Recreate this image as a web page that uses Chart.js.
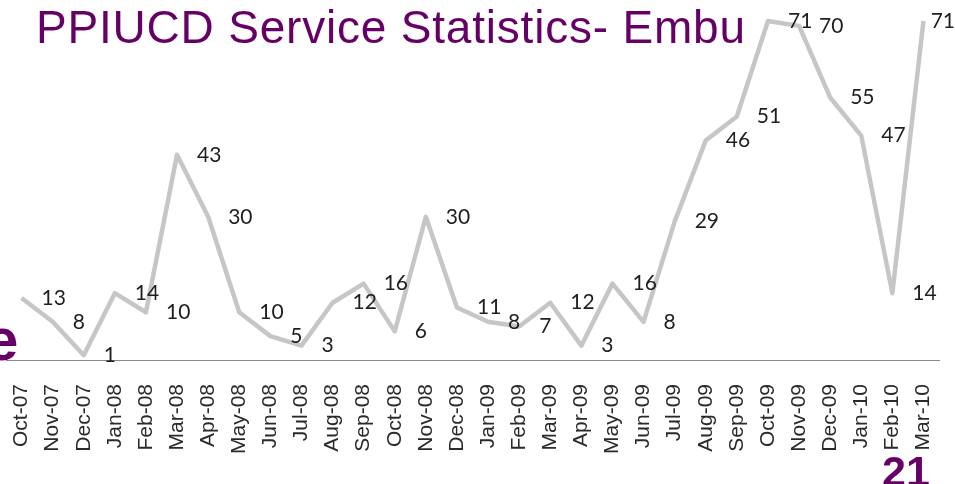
<!DOCTYPE html>
<html>
<head>
<meta charset="utf-8">
<script src="https://cdn.jsdelivr.net/npm/chart.js@4/dist/chart.umd.min.js"></script>
<style>
	body { margin: 0; background: #fff; }
	#wrap { position: relative; width: 955px; height: 484px; overflow: hidden; }
	#serviceChart { position: absolute; left: 0; top: 0; }
	.slide-text { position: absolute; color: #660066; font-family: "Liberation Sans", Arial, sans-serif; white-space: nowrap; }
	#title { left: 36px; top: 4px; font-size: 46px; line-height: 46px; letter-spacing: 0.8px; }
	#cutLetter { left: -15px; top: 310px; font-size: 60px; line-height: 60px; font-weight: bold; }
	#slideNo { left: 882px; top: 450px; font-size: 43px; line-height: 43px; font-weight: bold; }
</style>
</head>
<body>
<div id="wrap">
	<canvas id="serviceChart" width="955" height="484"></canvas>
	<div class="slide-text" id="title">PPIUCD Service Statistics- Embu</div>
	<div class="slide-text" id="cutLetter">e</div>
	<div class="slide-text" id="slideNo">21</div>
</div>
<script>
// monthly PPIUCD insertions, Oct 2007 - Mar 2010
const months = [
	"Oct-07", "Nov-07", "Dec-07", "Jan-08", "Feb-08", "Mar-08", "Apr-08", "May-08",
	"Jun-08", "Jul-08", "Aug-08", "Sep-08", "Oct-08", "Nov-08", "Dec-08", "Jan-09",
	"Feb-09", "Mar-09", "Apr-09", "May-09", "Jun-09", "Jul-09", "Aug-09", "Sep-09",
	"Oct-09", "Nov-09", "Dec-09", "Jan-10", "Feb-10", "Mar-10",
];
const insertions = [
	13, 8, 1, 14, 10, 43, 30, 10,
	5, 3, 12, 16, 6, 30, 11, 8,
	7, 12, 3, 16, 8, 29, 46, 51,
	71, 70, 55, 47, 14, 71,
];
const yMax = 75;

// value labels to the right of each point, like the Excel original
const valueLabels = {
	id: "valueLabels",
	afterDatasetsDraw(chart) {
		const ctx = chart.ctx;
		const meta = chart.getDatasetMeta(0);
		ctx.save();
		ctx.font = "21px Lato, 'Open Sans', sans-serif";
		ctx.fillStyle = "#1e1e1e";
		ctx.textAlign = "left";
		ctx.textBaseline = "middle";
		meta.data.forEach(function (pt, i) {
			const txt = String(insertions[i]);
			const w = ctx.measureText(txt).width;
			let x = pt.x + 20;
			if (x + w > chart.width) x = chart.width - w;
			ctx.fillText(txt, x, pt.y);
		});
		ctx.restore();
	},
};

new Chart(document.getElementById("serviceChart"), {
	type: "line",
	data: {
		labels: months,
		datasets: [
			{
				label: "PPIUCD",
				data: insertions,
				borderColor: "#c6c6c6",
				borderWidth: 4.5,
				borderJoinStyle: "round",
				pointRadius: 0,
				tension: 0,
			},
		],
	},
	options: {
		responsive: false,
		animation: false,
		layout: { padding: { left: 6, right: 16, top: 2, bottom: 0 } },
		scales: {
			x: {
				offset: true,
				grid: { display: false, drawTicks: false },
				border: { display: true, color: "#8a8a8a", width: 1 },
				ticks: {
					color: "#2a2a2a",
					font: { family: "'Liberation Sans', Arial, sans-serif", size: 21 },
					minRotation: 90,
					maxRotation: 90,
					autoSkip: false,
					padding: 24,
				},
				afterFit: function (scale) {
					// fixed axis band, and no extra side padding for the rotated end labels
					scale.height = 124;
					scale.paddingLeft = 0;
					scale.paddingRight = 0;
				},
			},
			y: {
				display: false,
				min: 0,
				max: yMax,
			},
		},
		plugins: {
			legend: { display: false },
			tooltip: { enabled: false },
		},
	},
	plugins: [valueLabels],
});
</script>
</body>
</html>
